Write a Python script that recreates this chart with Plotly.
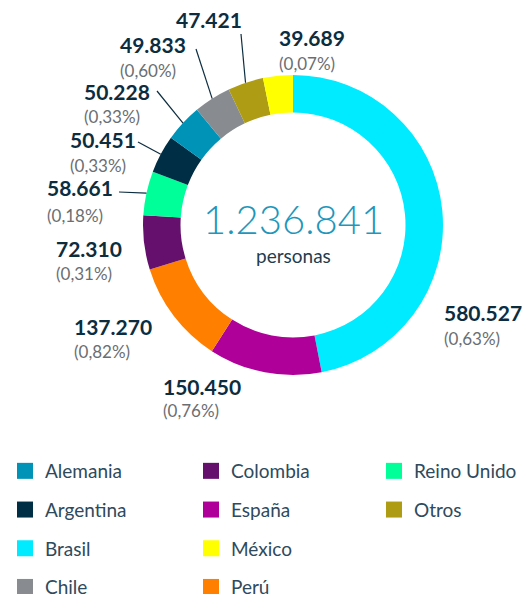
import math
import plotly.graph_objects as go

# ---------------- data ----------------
countries = ["Brasil", "España", "Perú", "Colombia", "Reino Unido",
             "Argentina", "Alemania", "Chile", "Otros", "México"]
values = [580527, 150450, 137270, 72310, 58661, 50451, 50228, 49833, 47421, 39689]
value_labels = ["580.527", "150.450", "137.270", "72.310", "58.661",
                "50.451", "50.228", "49.833", "47.421", "39.689"]
pct_labels = ["(0,63%)", "(0,76%)", "(0,82%)", "(0,31%)", "(0,18%)",
              "(0,33%)", "(0,33%)", "(0,60%)", "", "(0,07%)"]
total_label = "1.236.841"
unit_label = "personas"
legend_columns = [["Alemania", "Argentina", "Brasil", "Chile"],
                  ["Colombia", "España", "México", "Perú"],
                  ["Reino Unido", "Otros"]]

# ---------------- styles / layout ----------------
colors = {
    "Brasil": "#00EBFF", "España": "#B0009A", "Perú": "#FF7F00",
    "Colombia": "#66106E", "Reino Unido": "#00FF99", "Argentina": "#002E44",
    "Alemania": "#0093B8", "Chile": "#888B90", "Otros": "#AD9C14",
    "México": "#FFFF00",
}
W, H = 526, 594
CX, CY, R, HOLE = 293, 225, 150, 0.75
FONT = "Lato"
DARK = "#0C2D40"
GREY = "#6A6E72"

# label placement in pixels: left x, number centre y, pct centre y, leader tail (or None)
label_place = {
    "México":      (277, 37, 63, None),
    "Otros":       (174, 19, None, (241, 34)),
    "Chile":       (118, 44, 70, (196, 49)),
    "Alemania":    (82, 91, 116, (157, 91)),
    "Argentina":   (68, 139, 165, (138, 142)),
    "Reino Unido": (45, 187, 215, (119, 192)),
    "Colombia":    (54, 248, 273, None),
    "Perú":        (72, 326, 351, None),
    "España":      (161, 386, 410, None),
    "Brasil":      (442, 312, 338, None),
}
legend_x = [5, 191, 374]
legend_top = 452


def px(x):
    return x / W


def py(y):
    return 1 - y / H


fig = go.Figure()
fig.add_trace(go.Pie(
    labels=countries, values=values, sort=False, direction="clockwise",
    rotation=0, hole=HOLE, textinfo="none", hoverinfo="label+value",
    marker=dict(colors=[colors[c] for c in countries], line=dict(width=0)),
    showlegend=False,
    domain=dict(x=[px(CX - R), px(CX + R)], y=[py(CY + R), py(CY - R)]),
))

# legend entries (three legends / columns)
legend_names = ["legend", "legend2", "legend3"]
for li, col in enumerate(legend_columns):
    for c in col:
        fig.add_trace(go.Scatter(
            x=[None], y=[None], mode="markers", name=c,
            legend=legend_names[li], legendgroup=c,
            marker=dict(symbol="square", size=16, color=colors[c]),
        ))

annotations = []
shapes = []
total = sum(values)
cum = 0
for c, v, vl, pl in zip(countries, values, value_labels, pct_labels):
    mid = (cum + v / 2) / total * 2 * math.pi
    cum += v
    ex = CX + R * math.sin(mid)
    ey = CY - R * math.cos(mid)
    lx, ny, pyy, tail = label_place[c]
    annotations.append(dict(
        x=px(lx), y=py(ny), xref="paper", yref="paper", xanchor="left",
        yanchor="middle", showarrow=False, text="<b>%s</b>" % vl,
        font=dict(family=FONT, size=21, color=DARK)))
    if pl and pyy is not None:
        annotations.append(dict(
            x=px(lx), y=py(pyy), xref="paper", yref="paper", xanchor="left",
            yanchor="middle", showarrow=False, text=pl,
            font=dict(family=FONT, size=17, color=GREY)))
    if tail is not None:
        shapes.append(dict(type="line", xref="paper", yref="paper",
                           x0=px(tail[0]), y0=py(tail[1]), x1=px(ex), y1=py(ey),
                           line=dict(color=DARK, width=1.2)))

annotations.append(dict(
    x=px(CX), y=py(219), xref="paper", yref="paper", showarrow=False,
    text=total_label, font=dict(family=FONT, size=40, color="#1D97BC", weight=300)))
annotations.append(dict(
    x=px(CX), y=py(255), xref="paper", yref="paper", showarrow=False,
    text=unit_label, font=dict(family=FONT, size=19, color="#1F3D4E")))

leg_common = dict(
    orientation="v", xanchor="left", yanchor="top", y=py(legend_top),
    font=dict(family=FONT, size=19, color="#2E4A5C"), tracegroupgap=11,
    itemsizing="trace", bgcolor="rgba(0,0,0,0)", itemclick=False,
)
fig.update_layout(
    width=W, height=H, margin=dict(l=0, r=0, t=0, b=0, autoexpand=False),
    paper_bgcolor="white", plot_bgcolor="white",
    xaxis=dict(visible=False), yaxis=dict(visible=False),
    annotations=annotations, shapes=shapes,
    legend=dict(x=px(legend_x[0]), **leg_common),
    legend2=dict(x=px(legend_x[1]), **leg_common),
    legend3=dict(x=px(legend_x[2]), **leg_common),
)
fig.write_html("out.html", config={"displayModeBar": False},
               post_script="document.body.style.margin='0';")
